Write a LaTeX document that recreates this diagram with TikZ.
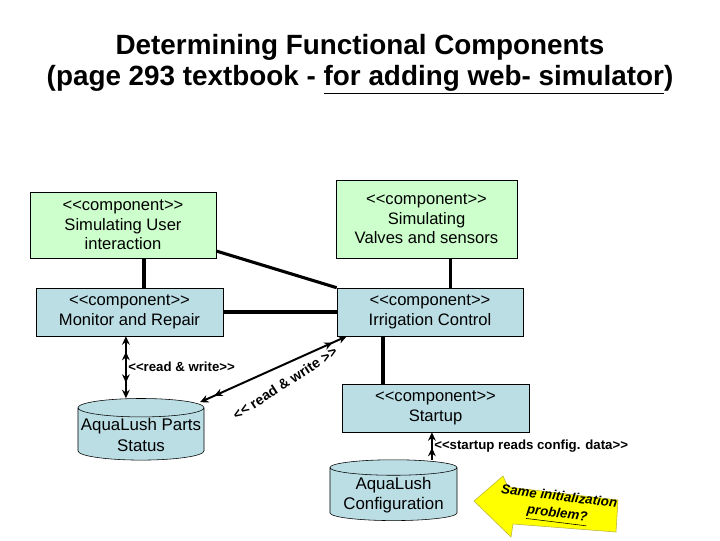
\documentclass[tikz,border=0pt]{standalone}
\usepackage{fontspec}
\setmainfont{Liberation Sans}[Ligatures=TeXOff]
\usetikzlibrary{shapes.geometric, arrows.meta, positioning, calc}

\definecolor{simgreen}{RGB}{204,255,204}
\definecolor{compblue}{RGB}{187,222,229}
\definecolor{noteyellow}{RGB}{255,255,0}

\begin{document}
\begin{tikzpicture}[
    x=0.025cm, y=-0.025cm,
    rwtip/.tip={Stealth[length=6pt,width=5.5pt,sep=5pt] Stealth[length=6pt,width=5.5pt]},
    comp/.style={draw, fill=compblue, align=center, inner sep=2pt,
                 font=\fontsize{11.8}{14}\selectfont},
    simcomp/.style={comp, fill=simgreen},
    store/.style={cylinder, shape border rotate=90, aspect=0.15, draw, fill=compblue,
                  align=center, inner sep=1pt, font=\fontsize{12}{14.5}\selectfont},
    link/.style={line width=2.2pt},
    rwarr/.style={line width=1.4pt, rwtip-rwtip},
    rdarr/.style={line width=1.4pt, -rwtip},
    lbl/.style={font=\fontsize{9.4}{11}\selectfont\bfseries, inner sep=1pt},
    titlelbl/.style={font=\fontsize{19.8}{24}\selectfont\bfseries},
]
\useasboundingbox (0,0) rectangle (720,540);

% title
\node[titlelbl] (title1) at (360,47) {Determining Functional Components};
\node[titlelbl] (title2) at (360,80) {(page 293 textbook - \underline{for adding web- simulator})};

% components
\node[simcomp, minimum width=4.65cm, minimum height=1.65cm] (simuser) at (123,225)
    {<<component>>\\Simulating User\\interaction};
\node[simcomp, minimum width=4.525cm, minimum height=1.95cm] (valves) at (426.5,219)
    {<<component>>\\Simulating\\Valves and sensors};
\node[comp, minimum width=4.675cm, minimum height=1.2cm] (monitor) at (129.5,312)
    {<<component>>\\Monitor and Repair};
\node[comp, minimum width=4.65cm, minimum height=1.2cm] (irrig) at (430,312)
    {<<component>>\\Irrigation Control};
\node[comp, minimum width=4.675cm, minimum height=1.2cm] (startup) at (435.5,408)
    {<<component>>\\Startup};

% data stores
\node[store, minimum width=3.15cm, minimum height=1.35cm] (parts) at (141,435)
    {AquaLush Parts\\Status};
\node[store, minimum width=3.175cm, minimum height=1.35cm] (config) at (393.5,495)
    {AquaLush\\Configuration};

% plain links
\draw[link] ([xshift=0.525cm]simuser.south) -- ([xshift=0.525cm]simuser.south |- monitor.north);
\draw[link] ([yshift=-0.65cm]simuser.east) -- (irrig.north west);
\draw[link] (monitor.east) -- (irrig.west);
\draw[link] ([xshift=0.59cm]valves.south) -- ([xshift=0.59cm]valves.south |- irrig.north);
\draw[link] ([xshift=-1.175cm]irrig.south) -- ([xshift=-1.175cm]irrig.south |- startup.north);

% data access
\draw[rwarr] ([xshift=-0.09cm]monitor.south) -- ([xshift=-0.09cm]monitor.south |- parts.north)
    node[lbl, pos=0.5, right] (rwvert) {<<read \& write>>};
\draw[rwarr] ([xshift=1.475cm,yshift=-0.1cm]parts.north) -- ([xshift=0.25cm]irrig.south west);
\node[lbl, rotate=33, font=\fontsize{10}{12}\selectfont\bfseries] (rwdiag) at (285,383)
    {<< read \& write >>};
\draw[rdarr] ([xshift=0.96cm]config.north) -- ([xshift=0.96cm]config.north |- startup.south)
    node[lbl, pos=0.5, right] (rdcfg) {<<startup reads config. data>>};

% note arrow
\filldraw[fill=noteyellow, draw=yellow!70!black, thin]
    (474,501) -- (503,476) -- (508,487) -- (618,500) -- (616,532) -- (513,524) -- (511,537) -- cycle;
\node[font=\fontsize{9.5}{12}\selectfont\bfseries\itshape, align=center, rotate=-7] (same) at (558,507)
    {Same initialization\\\underline{problem?}};
\end{tikzpicture}
\end{document}
